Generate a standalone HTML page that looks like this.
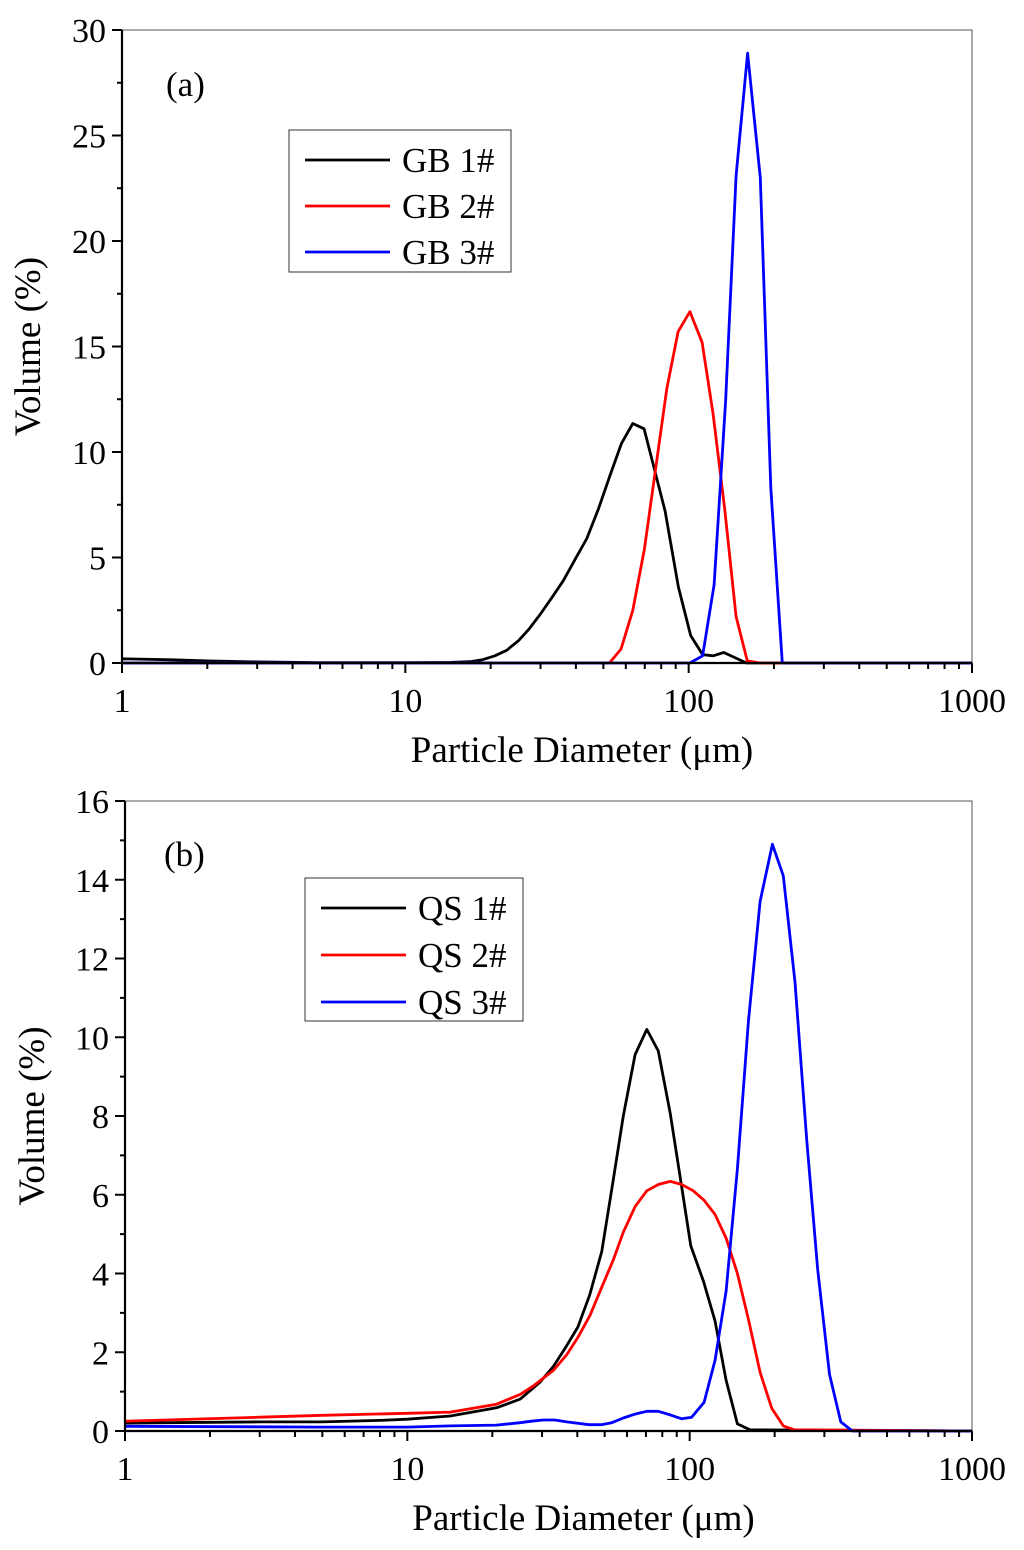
<!DOCTYPE html>
<html><head><meta charset="utf-8"><style>
html,body{margin:0;padding:0;background:#fff}
svg{display:block}
text{font-family:"Liberation Serif",serif;fill:#000}
</style></head><body>
<svg id="chart" width="1024" height="1550" viewBox="0 0 1024 1550" xmlns="http://www.w3.org/2000/svg"></svg>
<script>
// Panel (a) data
const gb1D=[1,1.5,2,3,5,10,14.4,16.9,18.8,20.7,22.8,25.1,27.3,29.9,32.9,36.1,39.7,43.7,48,52.8,57.9,63.5,69.6,82.6,92,101.7,112,122,133,160,1000];
const gb1V=[0.2,0.15,0.1,0.05,0.02,0.02,0.03,0.06,0.16,0.34,0.6,1.06,1.6,2.3,3.1,3.9,4.9,5.9,7.3,8.9,10.4,11.35,11.1,7.2,3.6,1.3,0.4,0.34,0.5,0,0];
const gb2D=[1,52.5,57.7,63.5,69.8,76.6,83.7,91.8,101,111.5,122,134,147,161,179,1000];
const gb2V=[0,0,0.66,2.5,5.4,9.3,13.0,15.7,16.65,15.2,11.8,7.3,2.2,0.1,0,0];
const gb3D=[1,101,112,123,135,147,161.5,179,195,214,1000];
const gb3V=[0,0,0.34,3.7,12.4,23.1,28.9,23,8.3,0,0];
// Panel (b) data
const qs1D=[1,3,5,8,10,14.2,20.7,25.1,29.5,32.9,36.2,40.2,44.2,48.8,53.7,58.2,64.1,70.5,77.4,85.3,92.5,100.9,111.9,123,134.6,147.6,163.6,1000];
const qs1V=[0.2,0.23,0.23,0.27,0.3,0.38,0.59,0.81,1.24,1.64,2.1,2.64,3.45,4.55,6.4,8.0,9.56,10.2,9.65,8.07,6.46,4.7,3.8,2.8,1.29,0.18,0.03,0];
const qs2D=[1,3,5,10,14.2,20.7,25.1,27.9,32.9,36.7,40.3,44.4,48.8,53.7,58.2,64.1,70.5,77.4,85.3,93.7,103,112.5,123,134.6,147.6,161.4,177.6,195.3,214.6,235,1000];
const qs2V=[0.25,0.35,0.4,0.45,0.48,0.68,0.93,1.14,1.54,1.94,2.39,2.94,3.65,4.35,5.05,5.7,6.1,6.26,6.34,6.26,6.1,5.86,5.5,4.9,4.0,2.84,1.49,0.58,0.13,0.03,0];
const qs3D=[1,5,10,14.2,20.7,25.1,27.5,30.3,33.3,36.7,44,48.6,53,58.2,64.1,70.5,77.4,85.3,93.7,101.7,112.5,123,134.6,147.6,161.4,177.6,196.3,214.6,236,260,284,312.7,343,377,1000];
const qs3V=[0.12,0.1,0.1,0.13,0.15,0.21,0.25,0.28,0.28,0.23,0.16,0.16,0.21,0.33,0.43,0.5,0.5,0.41,0.31,0.35,0.73,1.79,3.55,6.66,10.4,13.45,14.9,14.1,11.4,7.37,4.1,1.44,0.23,0,0];
const xTickLabels=["1","10","100","1000"];
const aYTicks=[0,5,10,15,20,25,30];
const bYTicks=[0,2,4,6,8,10,12,14,16];

const NS="http://www.w3.org/2000/svg";
const svg=document.getElementById('chart');
function mk(tag,attrs,parent,txt){const e=document.createElementNS(NS,tag);for(const k in attrs)e.setAttribute(k,attrs[k]);if(txt!==undefined)e.textContent=txt;(parent||svg).appendChild(e);return e;}

function panel(cfg){
  const g=mk('g',{});
  
  
  const X=d=>cfg.L+(Math.log10(d))/3*(cfg.R-cfg.L);
  const Y=v=>cfg.B-v/cfg.yMax*(cfg.B-cfg.T);
  const fr=mk('path',{d:`M${cfg.L} ${cfg.T}H${cfg.R}V${cfg.B}`,fill:'none',stroke:'#555','stroke-width':1},g);
  
  
  cfg.series.forEach(s=>{
    const p=mk('polyline',{points:s.d.map((d,i)=>X(d).toFixed(1)+','+Y(s.v[i]).toFixed(1)).join(' '),fill:'none',stroke:s.c,'stroke-width':2.8,'stroke-linejoin':'round'},g);
    
    
  });
  const ya=mk('line',{x1:cfg.L,y1:cfg.T,x2:cfg.L,y2:cfg.B+1,stroke:'#000','stroke-width':2.2},g);
  
  
  const xa=mk('line',{x1:cfg.L-1,y1:cfg.B,x2:cfg.R,y2:cfg.B,stroke:'#000','stroke-width':2.2},g);
  
  
  const step=cfg.yTicks[1]-cfg.yTicks[0];
  cfg.yTicks.forEach((t,i)=>{
    mk('line',{x1:cfg.L-10,y1:Y(t),x2:cfg.L,y2:Y(t),stroke:'#000','stroke-width':2},g);
    const tl=mk('text',{x:cfg.L-16,y:Y(t)+12,'font-size':34,'text-anchor':'end'},g,String(t));
    
    
    if(i<cfg.yTicks.length-1) mk('line',{x1:cfg.L-5,y1:Y(t+step/2),x2:cfg.L,y2:Y(t+step/2),stroke:'#000','stroke-width':2},g);
  });
  for(let dec=0;dec<=3;dec++){
    const d=Math.pow(10,dec);
    mk('line',{x1:X(d),y1:cfg.B,x2:X(d),y2:cfg.B+10,stroke:'#000','stroke-width':2},g);
    const tl=mk('text',{x:X(d),y:cfg.B+49,'font-size':34,'text-anchor':'middle'},g,xTickLabels[dec]);
    
    
    if(dec<3) for(let m=2;m<=9;m++){const xm=X(d*m);mk('line',{x1:xm,y1:cfg.B,x2:xm,y2:cfg.B+6,stroke:'#000','stroke-width':2},g);}
  }
  const xt=mk('text',{x:(cfg.L+cfg.R)/2+35,y:cfg.B+99,'font-size':37,'text-anchor':'middle'},g,'Particle Diameter (μm)');
  
  
  const cy=(cfg.T+cfg.B)/2;
  const yt=mk('text',{x:cfg.yTitleX,y:cy,'font-size':37,'text-anchor':'middle',transform:`rotate(-90 ${cfg.yTitleX} ${cy})`},g,'Volume (%)');
  
  
  const pl=mk('text',{x:cfg.panelLabel[0],y:cfg.panelLabel[1],'font-size':35},g,cfg.panelLabel[2]);
  
  
  const lg=cfg.legend;
  const lb=mk('g',{},g);
  
  
  mk('rect',{x:lg.x,y:lg.y,width:lg.w,height:lg.h,fill:'#fff',stroke:'#333','stroke-width':1},lb);
  cfg.series.forEach((s,i)=>{
    const ey=lg.y+30+i*lg.dy;
    const e=mk('g',{},lb);
    
    
    mk('line',{x1:lg.x+16,y1:ey,x2:lg.x+101,y2:ey,stroke:s.c,'stroke-width':2.8},e);
    mk('text',{x:lg.x+113,y:ey+12,'font-size':35},e,s.label);
  });
}
panel({name:'panel-a-glass-beads',L:122,R:972,T:30,B:663,yMax:30,yTicks:aYTicks,yTitleX:40,panelLabel:[166,96,'(a)'],
  legend:{x:289,y:130,w:222,h:142,dy:46},
  series:[{id:'gb1',label:'GB 1#',c:'#000',d:gb1D,v:gb1V},{id:'gb2',label:'GB 2#',c:'#ff0000',d:gb2D,v:gb2V},{id:'gb3',label:'GB 3#',c:'#0000ff',d:gb3D,v:gb3V}]});
panel({name:'panel-b-quartz-sand',L:125,R:972,T:801,B:1431,yMax:16,yTicks:bYTicks,yTitleX:44,panelLabel:[164,866,'(b)'],
  legend:{x:305,y:878,w:218,h:143,dy:47},
  series:[{id:'qs1',label:'QS 1#',c:'#000',d:qs1D,v:qs1V},{id:'qs2',label:'QS 2#',c:'#ff0000',d:qs2D,v:qs2V},{id:'qs3',label:'QS 3#',c:'#0000ff',d:qs3D,v:qs3V}]});
</script>
</body></html>
